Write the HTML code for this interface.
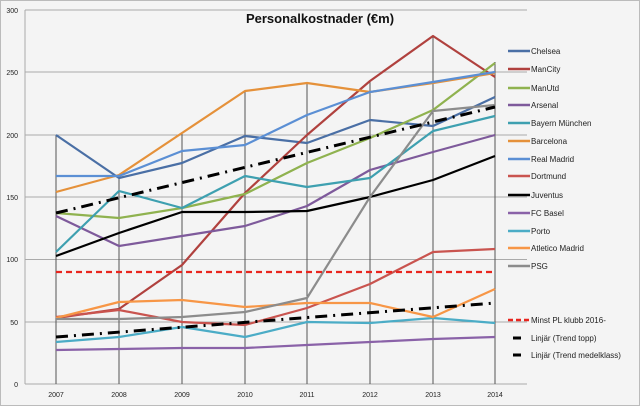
<!DOCTYPE html>
<html><head><meta charset="utf-8"><style>body{margin:0;background:#fff}svg{display:block}</style></head><body>
<svg width="640" height="406" viewBox="0 0 640 406" font-family="Liberation Sans, sans-serif">
<rect x="0.5" y="0.5" width="639" height="405" fill="#f4f4f4" stroke="#bbb"/>
<g stroke="#aaa" stroke-width="1">
<line x1="25" y1="10" x2="527" y2="10"/><line x1="25" y1="72" x2="527" y2="72"/><line x1="25" y1="135" x2="527" y2="135"/><line x1="25" y1="197" x2="527" y2="197"/><line x1="25" y1="259.5" x2="527" y2="259.5"/><line x1="25" y1="322" x2="527" y2="322"/>
<line x1="25" y1="10" x2="25" y2="384"/><line x1="25" y1="384" x2="527" y2="384"/>
</g>
<g stroke="#555" stroke-width="1">
<line x1="56" y1="135" x2="56" y2="384"/><line x1="119" y1="175" x2="119" y2="384"/><line x1="182" y1="134" x2="182" y2="384"/><line x1="245" y1="91" x2="245" y2="384"/><line x1="307" y1="83" x2="307" y2="384"/><line x1="370" y1="81" x2="370" y2="384"/><line x1="433" y1="36" x2="433" y2="384"/><line x1="495" y1="62" x2="495" y2="384"/>
</g>
<g font-size="7" fill="#222" text-anchor="end">
<text x="18" y="13">300</text><text x="18" y="75">250</text><text x="18" y="138">200</text><text x="18" y="200">150</text><text x="18" y="262">100</text><text x="18" y="325">50</text><text x="18" y="387">0</text>
</g>
<g font-size="7" fill="#222" text-anchor="middle">
<text x="56" y="397">2007</text><text x="119" y="397">2008</text><text x="182" y="397">2009</text><text x="245" y="397">2010</text><text x="307" y="397">2011</text><text x="370" y="397">2012</text><text x="433" y="397">2013</text><text x="495" y="397">2014</text>
</g>
<text x="320" y="23" font-size="13" font-weight="bold" text-anchor="middle" fill="#111">Personalkostnader (€m)</text>
<g fill="none" stroke-width="2.2" stroke-linejoin="round">
<polyline stroke="#4a6fa5" points="56,135 119,178 182,163 245,136 307,143 370,120 433,126 495,97"/>
<polyline stroke="#b0413e" points="56,318 119,309 182,265 245,193 307,135 370,81 433,36 495,77"/>
<polyline stroke="#8fb24f" points="56,213 119,218 182,208 245,194 307,163 370,138 433,110 495,63"/>
<polyline stroke="#7e5a9b" points="56,216 119,246 182,236 245,226 307,206 370,170 433,152 495,135"/>
<polyline stroke="#3ea0b0" points="56,252 119,191 182,208 245,176 307,187 370,178 433,131 495,116"/>
<polyline stroke="#e5913a" points="56,192 119,175 182,133 245,91 307,83 370,92 433,83 495,73"/>
<polyline stroke="#5b8fd4" points="56,176 119,176 182,151 245,145 307,115 370,92 433,82 495,72"/>
<polyline stroke="#c9544f" points="56,317 119,310 182,322 245,325 307,308 370,284 433,252 495,249"/>
<polyline stroke="#000" points="56,256 119,233 182,212 245,212 307,211 370,197 433,180 495,156"/>
<polyline stroke="#8a62a8" points="56,350 119,349 182,348 245,348 307,345 370,342 433,339 495,337"/>
<polyline stroke="#4bacc6" points="56,342 119,337 182,327 245,337 307,322 370,323 433,318 495,323"/>
<polyline stroke="#f79646" points="56,318 119,302 182,300 245,307 307,303 370,303 433,317 495,289"/>
<polyline stroke="#8c8c8c" points="56,319 119,319 182,317 245,312 307,298 370,197 433,111 495,105"/>
<line x1="56" y1="272" x2="495" y2="272" stroke="#e8251e" stroke-dasharray="6,4"/>
<line x1="56" y1="213" x2="495" y2="107" stroke="#000" stroke-width="3" stroke-dasharray="12,6,2,6"/>
<line x1="56" y1="337" x2="495" y2="303" stroke="#000" stroke-width="3" stroke-dasharray="12,6,2,6"/>
</g>
<g stroke-width="2.5">
<line x1="508" y1="51" x2="530" y2="51" stroke="#4a6fa5"/>
<line x1="508" y1="69" x2="530" y2="69" stroke="#b0413e"/>
<line x1="508" y1="88" x2="530" y2="88" stroke="#8fb24f"/>
<line x1="508" y1="105" x2="530" y2="105" stroke="#7e5a9b"/>
<line x1="508" y1="123" x2="530" y2="123" stroke="#3ea0b0"/>
<line x1="508" y1="141" x2="530" y2="141" stroke="#e5913a"/>
<line x1="508" y1="159" x2="530" y2="159" stroke="#5b8fd4"/>
<line x1="508" y1="176" x2="530" y2="176" stroke="#c9544f"/>
<line x1="508" y1="195" x2="530" y2="195" stroke="#000"/>
<line x1="508" y1="213" x2="530" y2="213" stroke="#8a62a8"/>
<line x1="508" y1="231" x2="530" y2="231" stroke="#4bacc6"/>
<line x1="508" y1="248" x2="530" y2="248" stroke="#f79646"/>
<line x1="508" y1="266" x2="530" y2="266" stroke="#8c8c8c"/>
<line x1="508" y1="320" x2="530" y2="320" stroke="#e8251e" stroke-dasharray="5,3"/>
<line x1="513" y1="338" x2="521" y2="338" stroke="#000" stroke-width="3"/>
<line x1="513" y1="355" x2="521" y2="355" stroke="#000" stroke-width="3"/>
</g>
<g font-size="8" fill="#222">
<text x="531" y="54">Chelsea</text><text x="531" y="72">ManCity</text><text x="531" y="91">ManUtd</text><text x="531" y="108">Arsenal</text><text x="531" y="126">Bayern München</text><text x="531" y="144">Barcelona</text><text x="531" y="162">Real Madrid</text><text x="531" y="179">Dortmund</text><text x="531" y="198">Juventus</text><text x="531" y="216">FC Basel</text><text x="531" y="234">Porto</text><text x="531" y="251">Atletico Madrid</text><text x="531" y="269">PSG</text><text x="531" y="323">Minst PL klubb 2016-</text><text x="531" y="341">Linjär (Trend topp)</text><text x="531" y="358">Linjär (Trend medelklass)</text>
</g>
</svg>
</body></html>
